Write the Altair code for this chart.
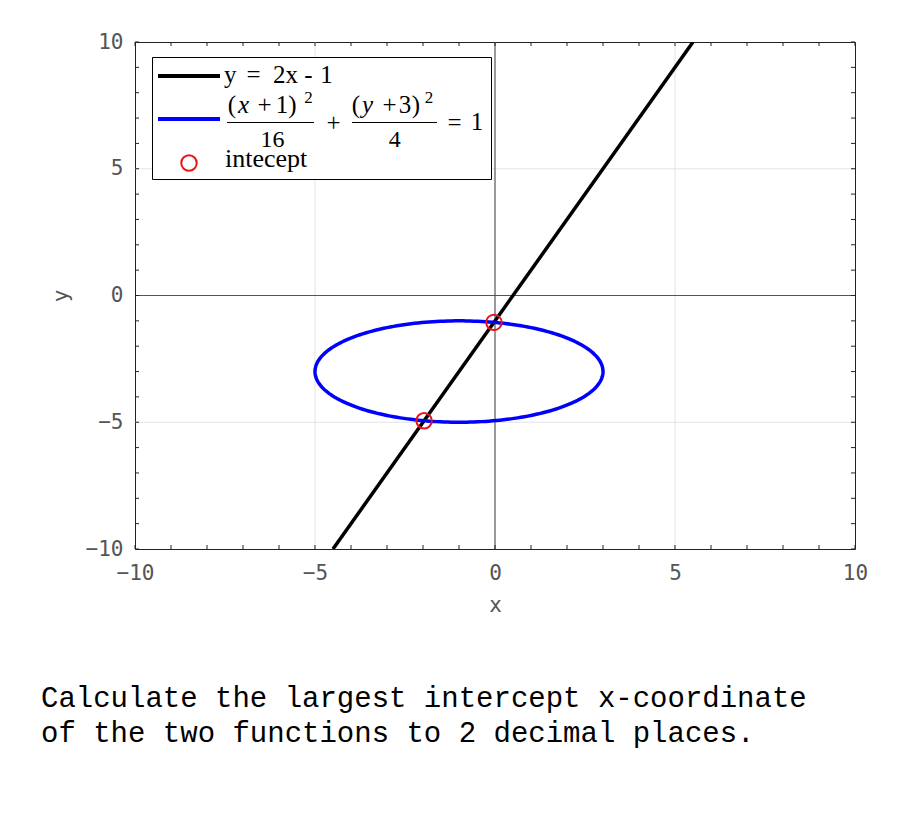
import altair as alt
import numpy as np
import pandas as pd

# ---- data ----
line_x = [-4.5, 5.5]          # y = 2x - 1 endpoints inside the window
line_y = [-10.0, 10.0]
ell_center = (-1.0, -3.0)     # (x+1)^2/16 + (y+3)^2/4 = 1
ell_axes = (4.0, 2.0)
int_x = [-0.03, -1.97]        # intercept points
int_y = [-1.06, -4.94]
grid_vals = [-5, 5]
tick_vals = list(range(-10, 11))
axis_ticks = [-10, -5, 0, 5, 10]

t = np.linspace(0, 2 * np.pi, 241)
ell_df = pd.DataFrame({
    "x": ell_center[0] + ell_axes[0] * np.cos(t),
    "y": ell_center[1] + ell_axes[1] * np.sin(t),
    "o": np.arange(len(t)),
})
line_df = pd.DataFrame({"x": line_x, "y": line_y})
pts_df = pd.DataFrame({"x": int_x, "y": int_y})
grid_df = pd.DataFrame({"v": grid_vals})
tick_df = pd.DataFrame({"v": tick_vals})
zero_df = pd.DataFrame({"v": [0]})

W, H = 720, 507
LBL = "DejaVu Sans Mono"
SERIF = "Liberation Serif"
FS = 25

xs = alt.Scale(domain=[-10, 10], nice=False, zero=False)
ys = alt.Scale(domain=[-10, 10], nice=False, zero=False)

X = alt.X("x:Q", scale=xs, title="x",
          axis=alt.Axis(values=axis_ticks, grid=False, ticks=False, domain=False,
                        labelFlush=False, labelOverlap=False, labelPadding=13,
                        titlePadding=11))
Y = alt.Y("y:Q", scale=ys, title="y",
          axis=alt.Axis(values=axis_ticks, grid=False, ticks=False, domain=False,
                        labelFlush=False, labelOverlap=False, labelPadding=12,
                        titlePadding=14))

base_axes = alt.Chart(line_df).mark_point(opacity=0).encode(x=X, y=Y)

gx = alt.Chart(grid_df).mark_rule(color="#e3e3e3", strokeWidth=1).encode(
    x=alt.X("v:Q", scale=xs), y=alt.value(0), y2=alt.value(H))
gy = alt.Chart(grid_df).mark_rule(color="#e3e3e3", strokeWidth=1).encode(
    y=alt.Y("v:Q", scale=ys), x=alt.value(0), x2=alt.value(W))
zx = alt.Chart(zero_df).mark_rule(color="#555555", strokeWidth=1.2).encode(
    x=alt.X("v:Q", scale=xs), y=alt.value(0), y2=alt.value(H))
zy = alt.Chart(zero_df).mark_rule(color="#555555", strokeWidth=1.2).encode(
    y=alt.Y("v:Q", scale=ys), x=alt.value(0), x2=alt.value(W))

TL = 4
tk = []
tk.append(alt.Chart(tick_df).mark_rule(color="#222", strokeWidth=1).encode(
    x=alt.X("v:Q", scale=xs), y=alt.value(H), y2=alt.value(H - TL)))
tk.append(alt.Chart(tick_df).mark_rule(color="#222", strokeWidth=1).encode(
    x=alt.X("v:Q", scale=xs), y=alt.value(0), y2=alt.value(TL)))
tk.append(alt.Chart(tick_df).mark_rule(color="#222", strokeWidth=1).encode(
    y=alt.Y("v:Q", scale=ys), x=alt.value(0), x2=alt.value(TL)))
tk.append(alt.Chart(tick_df).mark_rule(color="#222", strokeWidth=1).encode(
    y=alt.Y("v:Q", scale=ys), x=alt.value(W), x2=alt.value(W - TL)))

line = alt.Chart(line_df).mark_line(color="black", strokeWidth=3.5, clip=True).encode(
    x=alt.X("x:Q", scale=xs), y=alt.Y("y:Q", scale=ys))
ell = alt.Chart(ell_df).mark_line(color="#0000ff", strokeWidth=3.5).encode(
    x=alt.X("x:Q", scale=xs), y=alt.Y("y:Q", scale=ys), order="o:Q")
pts = alt.Chart(pts_df).mark_point(shape="circle", color="#e8141c", filled=False,
                                   size=240, strokeWidth=2, opacity=1).encode(
    x=alt.X("x:Q", scale=xs), y=alt.Y("y:Q", scale=ys))

# ---- legend (drawn by hand, pixel offsets from plot origin) ----
OX, OY = 135, 42
one = pd.DataFrame({"a": [0]})


def txt(s, px, py, size=FS, font=SERIF, style="normal", align="center", color="black",
        baseline="alphabetic"):
    return alt.Chart(one).mark_text(text=s, font=font, fontSize=size, fontStyle=style,
                                    align=align, baseline=baseline, color=color).encode(
        x=alt.value(px - OX), y=alt.value(py - OY))


def hrule(x1, x2, yy, color, w):
    return alt.Chart(one).mark_rule(color=color, strokeWidth=w).encode(
        x=alt.value(x1 - OX), x2=alt.value(x2 - OX), y=alt.value(yy - OY))


box = alt.Chart(one).mark_rect(fill="white", stroke="black", strokeWidth=1).encode(
    x=alt.value(152.5 - OX), x2=alt.value(491.5 - OX),
    y=alt.value(57.5 - OY), y2=alt.value(179.5 - OY))

leg = [box,
       hrule(158, 220, 76, "black", 4),
       txt("y", 224, 83, align="left"), txt("=", 253.5, 83), txt("2x", 273, 83, align="left"),
       txt("-", 308.5, 83), txt("1", 326.5, 83),
       hrule(158, 220, 119, "#0000ff", 4),
       # first fraction
       txt("(", 232, 113), txt("x", 243.5, 113, style="italic"), txt("+", 264.5, 113),
       txt("1", 282, 113), txt(")", 292.5, 113), txt("2", 308.5, 103, size=17),
       hrule(227, 314, 122.5, "black", 1.2),
       txt("16", 272.5, 147, size=24),
       txt("+", 333.5, 131),
       # second fraction
       txt("(", 356, 113), txt("y", 367.5, 113, style="italic"), txt("+", 389.5, 113),
       txt("3", 405, 113), txt(")", 416, 113), txt("2", 429, 103, size=17),
       hrule(352, 437, 122.5, "black", 1.2),
       txt("4", 394.7, 147, size=24),
       txt("=", 454.5, 131), txt("1", 477, 130),
       alt.Chart(one).mark_point(shape="circle", color="#e8141c", filled=False, size=240,
                                 strokeWidth=2, opacity=1).encode(
           x=alt.value(189 - OX), y=alt.value(163 - OY)),
       txt("intecept", 225, 167, align="left", size=26),
       ]

q1 = txt("Calculate the largest intercept x-coordinate", 41, 707, size=29,
         font="Liberation Mono", align="left")
q2 = txt("of the two functions to 2 decimal places.", 41, 742, size=29,
         font="Liberation Mono", align="left")

chart = alt.layer(base_axes, gx, gy, zx, zy, line, ell, pts, *tk, *leg, q1, q2).properties(
    width=W, height=H,
    autosize=alt.AutoSizeParams(type="none"),
    padding={"left": 127, "top": 34, "right": 37, "bottom": 260},
).configure_view(stroke="#222", strokeWidth=1).configure_axis(
    labelFont=LBL, labelFontSize=21, labelColor="#555", labelFontWeight="normal",
    titleFont=LBL, titleFontSize=21, titleColor="#555", titleFontWeight="normal",
)

chart.save("out.html", embed_options={"renderer": "svg", "actions": False})
